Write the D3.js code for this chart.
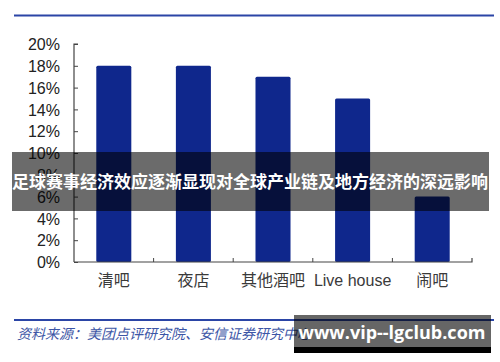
<!DOCTYPE html>
<html><head><meta charset="utf-8">
<script src="https://cdn.jsdelivr.net/npm/d3@7"></script>
<style>html,body{margin:0;padding:0;background:#fff;}svg{display:block;}</style>
</head><body>
<svg id="c" width="500" height="362"></svg>
<script>
const categories = ["清吧", "夜店", "其他酒吧", "Live house", "闹吧"];
const values = [0.18, 0.18, 0.17, 0.15, 0.06];
const yTicks = [0, 0.02, 0.04, 0.06, 0.08, 0.10, 0.12, 0.14, 0.16, 0.18, 0.20];
const bannerText = "足球赛事经济效应逐渐显现对全球产业链及地方经济的深远影响";
const sourceText = "资料来源：美团点评研究院、安信证券研究中心";
const watermark = "www.vip--lgclub.com";

(function () {
const svg = d3.select("#c");
const pl = 74, pr = 472, pt = 44, pb = 262;
const x = d3.scaleBand().domain(categories).range([pl, pr]).paddingInner(0.56).paddingOuter(0.28);
const y = d3.scaleLinear().domain([0, 0.20]).range([pb, pt]);
const latin = "'Liberation Sans', Arial, sans-serif";
const cjk = "'Liberation Sans', 'Noto Sans CJK SC', sans-serif";

svg.append("line").attr("x1", 14).attr("x2", 494).attr("y1", 15.5).attr("y2", 15.5)
  .attr("stroke", "#2b45a6").attr("stroke-width", 2);
svg.append("line").attr("x1", 14).attr("x2", 494).attr("y1", 320).attr("y2", 320)
  .attr("stroke", "#2b45a6").attr("stroke-width", 2);

svg.append("g").selectAll("rect").data(values).join("rect")
  .attr("x", (d, i) => x(categories[i]))
  .attr("y", d => y(d))
  .attr("width", x.bandwidth())
  .attr("height", d => y(0) - y(d))
  .attr("rx", 1.5)
  .attr("fill", "#0f278c");

const yAxis = d3.axisRight(y).tickValues(yTicks).tickSize(4).tickFormat(d3.format(".0%"));
const gy = svg.append("g").attr("transform", `translate(${pl},0)`).call(yAxis);
gy.select(".domain").attr("stroke", "#444").attr("stroke-width", 1.2).attr("d", `M4,${pt}H0V${pb}`);
gy.selectAll(".tick line").attr("stroke", "#444");
gy.selectAll(".tick text").attr("x", -14).attr("text-anchor", "end")
  .attr("font-family", latin).attr("font-size", 16).attr("fill", "#222").attr("dy", "0.35em");

const gx = svg.append("g").attr("transform", `translate(0,${pb})`);
gx.append("path").attr("d", `M${pl},0H${pr}V-4`).attr("stroke", "#444").attr("stroke-width", 1.2).attr("fill", "none");
const step = x.step();
categories.slice(1).forEach((c) => {
  const xx = x(c) - (step - x.bandwidth()) / 2;
  gx.append("line").attr("x1", xx).attr("x2", xx).attr("y1", 0).attr("y2", -4).attr("stroke", "#444");
});
gx.selectAll("text.cat").data(categories).join("text").attr("class", "cat")
  .attr("x", d => x(d) + x.bandwidth() / 2)
  .attr("y", 24).attr("text-anchor", "middle")
  .attr("font-family", cjk).attr("font-size", 16).attr("fill", "#3a3a3a")
  .text(d => d);

svg.append("text").attr("x", 17).attr("y", 339).attr("font-family", "'Noto Sans CJK SC', sans-serif")
  .attr("font-size", 14).attr("font-style", "italic").attr("fill", "#3d56a6").text(sourceText);

svg.append("rect").attr("x", 12).attr("y", 152).attr("width", 477).attr("height", 59)
  .attr("fill", "#000").attr("opacity", 0.58);
svg.append("text").attr("x", 250).attr("y", 182).attr("dy", "0.36em").attr("text-anchor", "middle")
  .attr("font-family", "'Noto Sans CJK SC', sans-serif").attr("font-weight", "bold")
  .attr("font-size", 17).attr("fill", "#fff").text(bannerText);

svg.append("rect").attr("x", 294).attr("y", 347).attr("width", 197).attr("height", 6).attr("fill", "#000");
svg.append("rect").attr("x", 294).attr("y", 315).attr("width", 197).attr("height", 38)
  .attr("fill", "#000").attr("opacity", 0.6);
svg.append("text").attr("x", 392).attr("y", 333).attr("dy", "0.36em").attr("text-anchor", "middle")
  .attr("font-family", "'Open Sans', 'DejaVu Sans', sans-serif").attr("font-weight", "bold")
  .attr("font-size", 18).attr("fill", "#fff").text(watermark);
})();
</script>
</body></html>
